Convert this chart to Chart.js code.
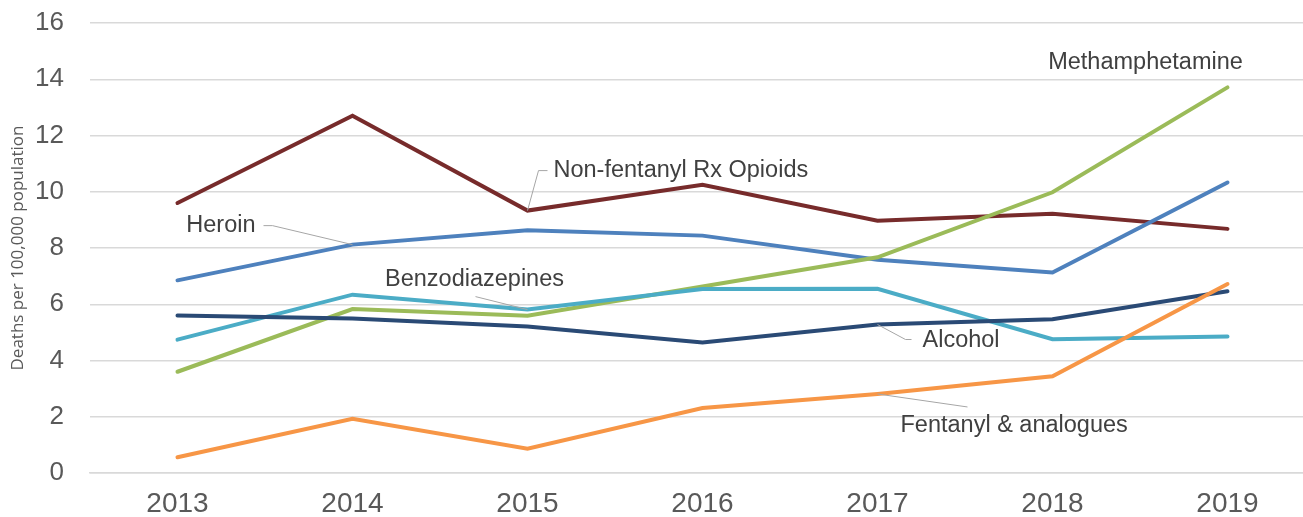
<!DOCTYPE html>
<html>
<head>
<meta charset="utf-8">
<script src="https://cdn.jsdelivr.net/npm/chart.js@4.4.0/dist/chart.umd.min.js"></script>
<style>
  html, body { margin: 0; padding: 0; background: #fff; overflow: hidden; }
  #wrap { width: 1315px; height: 517px; position: relative; }
</style>
</head>
<body>
<div id="wrap"><canvas id="myChart"></canvas></div>
<script>
"use strict";

const years = ['2013', '2014', '2015', '2016', '2017', '2018', '2019'];
const yTicks = [0, 2, 4, 6, 8, 10, 12, 14, 16];

const nonFentanyl = [9.60, 12.70, 9.33, 10.25, 8.97, 9.22, 8.68];
const heroin = [6.85, 8.12, 8.63, 8.44, 7.58, 7.13, 10.33];
const meth = [3.60, 5.83, 5.59, 6.63, 7.67, 9.98, 13.71];
const benzo = [4.74, 6.34, 5.81, 6.54, 6.55, 4.76, 4.85];
const alcohol = [5.60, 5.49, 5.21, 4.64, 5.28, 5.47, 6.46];
const fentanyl = [0.56, 1.93, 0.86, 2.31, 2.81, 3.44, 6.72];

const seriesNames = ['Non-fentanyl Rx Opioids', 'Heroin', 'Methamphetamine',
    'Benzodiazepines', 'Alcohol', 'Fentanyl & analogues'];
const colors = ['#772b2b', '#4e81bd', '#9bbb59', '#4bacc6', '#2a4a75', '#f79646'];

const FONT = '"Liberation Sans", Arial, sans-serif';

// label placement: dataset index, year index, text offset, leader path (offsets from the point)
const labels = [
    { ds: 0, i: 2, dx: 26, dy: -40, align: 'left', path: [[0, 0], [11, -40], [20, -40]] },
    { ds: 1, i: 1, dx: -97, dy: -19, align: 'right', path: [[0, 0], [-80, -19], [-89, -19]] },
    { ds: 3, i: 2, dx: -53, dy: -30, align: 'center', path: [[0, 0], [-52, -13]] },
    { ds: 4, i: 4, dx: 45, dy: 16, align: 'left', path: [[0, 0], [28, 15], [34, 15]] },
    { ds: 5, i: 4, dx: 23, dy: 32, align: 'left', path: [[0, 0], [90, 13]] },
    { ds: 2, i: 6, dx: -82, dy: -25, align: 'center', path: [] }
];

const labelPlugin = {
    id: 'labelPlugin',
    afterDatasetsDraw(chart) {
        const ctx = chart.ctx;
        ctx.save();
        for (let k = 0; k < labels.length; k++) {
            const l = labels[k];
            const pt = chart.getDatasetMeta(l.ds).data[l.i];
            if (l.path.length) {
                ctx.strokeStyle = '#a6a6a6';
                ctx.lineWidth = 1;
                ctx.beginPath();
                ctx.moveTo(pt.x + l.path[0][0], pt.y + l.path[0][1]);
                for (let j = 1; j < l.path.length; j++) {
                    ctx.lineTo(pt.x + l.path[j][0], pt.y + l.path[j][1]);
                }
                ctx.stroke();
            }
            ctx.fillStyle = '#404040';
            ctx.font = '23.5px ' + FONT;
            ctx.textAlign = l.align;
            ctx.textBaseline = 'middle';
            ctx.fillText(seriesNames[l.ds], pt.x + l.dx, pt.y + l.dy);
        }
        ctx.restore();
    }
};

const allData = [nonFentanyl, heroin, meth, benzo, alcohol, fentanyl];
const datasets = [];
for (let i = 0; i < allData.length; i++) {
    datasets.push({
        label: seriesNames[i],
        data: allData[i],
        borderColor: colors[i],
        backgroundColor: colors[i],
        borderWidth: 4,
        pointRadius: 0,
        tension: 0,
        borderCapStyle: 'round',
        order: allData.length - i
    });
}

const ctx = document.getElementById('myChart').getContext('2d');
new Chart(ctx, {
    type: 'line',
    data: { labels: years, datasets: datasets },
    plugins: [labelPlugin],
    options: {
        responsive: true,
        maintainAspectRatio: false,
        animation: false,
        layout: { padding: { top: 23, left: 0, right: 0, bottom: 0 } },
        plugins: { legend: { display: false }, tooltip: { enabled: false } },
        scales: {
            x: {
                offset: true,
                grid: { display: false, drawTicks: false },
                border: { display: true, color: '#d9d9d9', width: 1.5 },
                ticks: { color: '#595959', font: { family: FONT, size: 28 }, padding: 14 },
                afterFit(scale) { scale.height = 44; }
            },
            y: {
                min: 0,
                max: 16,
                afterBuildTicks(scale) { scale.ticks = yTicks.map(v => ({ value: v })); },
                grid: { color: '#d9d9d9', lineWidth: 1.5, drawTicks: false },
                border: { display: false },
                ticks: { color: '#595959', font: { family: FONT, size: 26 }, padding: 26 },
                title: {
                    display: true,
                    text: 'Deaths per 100,000 population',
                    color: '#595959',
                    font: { family: '"Open Sans", sans-serif', size: 17 },
                    padding: { top: 8, bottom: 0 }
                },
                afterFit(scale) {
                    scale.width = 90;
                    scale.paddingTop = 0;
                    scale.paddingBottom = 0;
                }
            }
        }
    }
});
</script>
</body>
</html>
